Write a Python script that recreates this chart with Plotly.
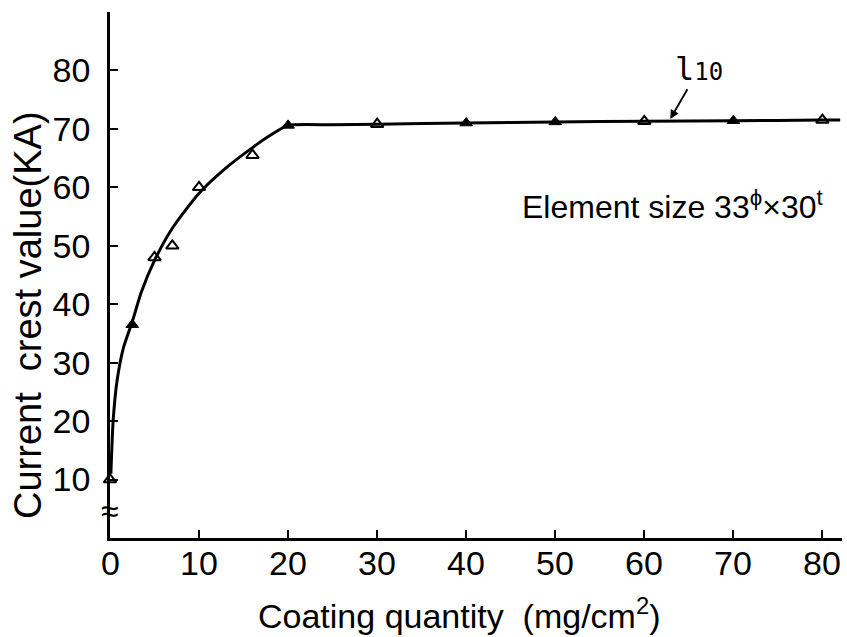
import plotly.graph_objects as go

# Measured points: coating quantity (mg/cm^2) vs current crest value (kA)
open_x = [0, 5, 7, 10, 16, 30, 60, 80]
open_y = [10, 48, 50, 60, 65.5, 70.8, 71.3, 71.5]
filled_x = [2.5, 20, 40, 50, 70]
filled_y = [36.5, 70.6, 71, 71.2, 71.4]

# Fitted curve l10 knots
curve_x = [0.1, 0.35, 0.8, 1.5, 2.5, 3.5, 5, 7, 10, 13, 16, 18, 20, 25, 30, 40, 50, 60, 70, 80, 82]
curve_y = [11, 20, 27, 32.5, 37, 42, 47.5, 53, 59, 63.3, 66.8, 68.9, 70.6, 70.7, 70.8, 71, 71.2, 71.3, 71.4, 71.5, 71.5]

x_ticks = [0, 10, 20, 30, 40, 50, 60, 70, 80]
y_ticks = [10, 20, 30, 40, 50, 60, 70, 80]

x_title = "Coating quantity  (mg/cm<sup>2</sup>)"
y_title = "Current  crest value(KA)"

FONT = "Liberation Sans, Arial, sans-serif"
INK = "black"

fig = go.Figure()

fig.add_trace(go.Scatter(
    x=curve_x, y=curve_y, mode="lines",
    line=dict(color=INK, width=3, shape="spline", smoothing=0.6),
    cliponaxis=False, hoverinfo="skip",
))
fig.add_trace(go.Scatter(
    x=open_x, y=open_y, mode="markers",
    marker=dict(symbol="triangle-up-open", size=11, color=INK, line=dict(width=2, color=INK)),
    cliponaxis=False,
))
fig.add_trace(go.Scatter(
    x=filled_x, y=filled_y, mode="markers",
    marker=dict(symbol="triangle-up", size=11, color=INK, line=dict(width=1, color=INK)),
    cliponaxis=False,
))

fig.update_layout(
    width=847, height=637,
    margin=dict(l=110, r=5, t=12, b=99),
    paper_bgcolor="white", plot_bgcolor="white",
    showlegend=False,
    font=dict(family=FONT, color=INK),
)

fig.update_xaxes(
    range=[0, 82.2], tickvals=x_ticks, showticklabels=False,
    showgrid=False, zeroline=False,
    showline=True, linecolor=INK, linewidth=2.5,
    ticks="inside", ticklen=8, tickwidth=2, tickcolor=INK,
)
fig.update_yaxes(
    range=[0, 90], tickvals=y_ticks, ticktext=[str(v) for v in y_ticks],
    showgrid=False, zeroline=False,
    showline=True, linecolor=INK, linewidth=2.5,
    ticks="inside", ticklen=8, tickwidth=2, tickcolor=INK,
    tickfont=dict(family=FONT, size=34, color=INK),
    ticklabelstandoff=10,
)

# X tick labels set close under the axis line
for v in x_ticks:
    fig.add_annotation(
        x=v, y=-0.047, xref="x", yref="paper", xanchor="center", yanchor="middle",
        text=str(v), font=dict(family=FONT, size=34, color=INK), showarrow=False,
    )

# Axis titles
fig.add_annotation(
    x=0.477, y=-0.143, xref="paper", yref="paper", xanchor="center", yanchor="middle",
    text=x_title, font=dict(family=FONT, size=34, color=INK), showarrow=False,
)
fig.add_annotation(
    x=-0.112, y=0.424, xref="paper", yref="paper", xanchor="center", yanchor="middle",
    text=y_title, textangle=-90, font=dict(family=FONT, size=38, color=INK), showarrow=False,
)

# Curve label with pointer
fig.add_annotation(
    x=62.8, y=71.4, xref="x", yref="y",
    text="l<span style='font-size:24px'>10</span>",
    font=dict(family="DejaVu Sans Mono, monospace", size=32, color=INK),
    showarrow=True, arrowhead=2, arrowsize=1, arrowwidth=1.8, arrowcolor=INK,
    ax=30, ay=-52, standoff=2,
)

# Element size note
fig.add_annotation(
    x=46, y=57.0, xref="x", yref="y", xanchor="left", yanchor="middle",
    text="Element size 33<sup>ϕ</sup>×30<sup>t</sup>",
    font=dict(family=FONT, size=32, color=INK),
    showarrow=False,
)

# Axis break mark
fig.add_annotation(
    x=0, y=4.6, xref="x", yref="y", xanchor="center", yanchor="middle",
    text="≈", font=dict(family=FONT, size=32, color=INK),
    showarrow=False,
)

fig.write_html("out.html")
